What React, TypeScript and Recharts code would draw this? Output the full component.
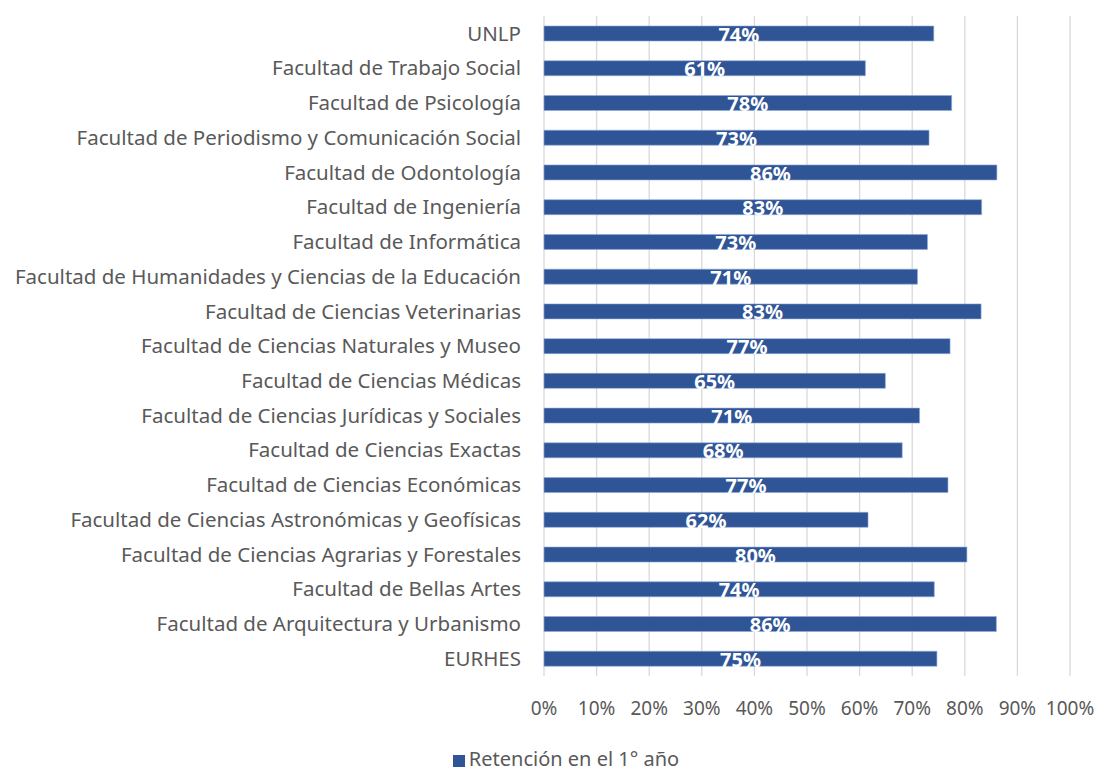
import {
  BarChart,
  Bar,
  XAxis,
  YAxis,
  CartesianGrid,
  Legend,
  LabelList,
} from "recharts";

const facultades = [
  "UNLP",
  "Facultad de Trabajo Social",
  "Facultad de Psicología",
  "Facultad de Periodismo y Comunicación Social",
  "Facultad de Odontología",
  "Facultad de Ingeniería",
  "Facultad de Informática",
  "Facultad de Humanidades y Ciencias de la Educación",
  "Facultad de Ciencias Veterinarias",
  "Facultad de Ciencias Naturales y Museo",
  "Facultad de Ciencias Médicas",
  "Facultad de Ciencias Jurídicas y Sociales",
  "Facultad de Ciencias Exactas",
  "Facultad de Ciencias Económicas",
  "Facultad de Ciencias Astronómicas y Geofísicas",
  "Facultad de Ciencias Agrarias y Forestales",
  "Facultad de Bellas Artes",
  "Facultad de Arquitectura y Urbanismo",
  "EURHES",
];

const retencion = [
  0.741, 0.611, 0.775, 0.732, 0.861, 0.832, 0.729, 0.71, 0.831, 0.772, 0.649,
  0.714, 0.681, 0.768, 0.616, 0.804, 0.742, 0.86, 0.747,
];

const xTicks = [0, 0.1, 0.2, 0.3, 0.4, 0.5, 0.6, 0.7, 0.8, 0.9, 1];

const SERIE = "Retención en el 1° año";

const data = facultades.map((name, i) => ({ name, value: retencion[i] }));

const FONT = "'Noto Sans', sans-serif";
const GRAY = "#595959";
const BLUE = "#2F5597";

const pct = (v: number) => `${Math.round(v * 100)}%`;

export default function App() {
  return (
    <div style={{ position: "absolute", left: 0, top: 0, fontFamily: FONT }}>
      <BarChart
        width={1099}
        height={771}
        data={data}
        layout="vertical"
        margin={{ top: 16, right: 29, left: 0, bottom: 0 }}
      >
        <CartesianGrid horizontal={false} stroke="#D9D9D9" strokeWidth={1.3} />
        <XAxis
          type="number"
          domain={[0, 1]}
          ticks={xTicks}
          tickFormatter={pct}
          axisLine={false}
          tickLine={false}
          tickSize={0}
          tickMargin={26}
          height={71}
          interval={0}
          tick={{ fill: GRAY, fontSize: 19, fontFamily: FONT }}
        />
        <YAxis
          type="category"
          dataKey="name"
          width={544}
          axisLine={false}
          tickLine={false}
          tickSize={0}
          tickMargin={23}
          interval={0}
          tick={{ fill: GRAY, fontSize: 20.5, fontFamily: FONT }}
        />
        <Legend
          verticalAlign="bottom"
          iconType="square"
          iconSize={12}
          wrapperStyle={{
            fontSize: 20,
            lineHeight: "24px",
            fontFamily: FONT,
            paddingLeft: 36,
            bottom: 0,
          }}
          formatter={(v) => <span style={{ color: GRAY }}>{v}</span>}
        />
        <Bar
          dataKey="value"
          name={SERIE}
          fill={BLUE}
          stroke="#8EA9DB"
          strokeWidth={0.6}
          barSize={15}
          isAnimationActive={false}
        >
          <LabelList
            dataKey="value"
            position="center"
            formatter={(v: number) => pct(v)}
            fill="#FFFFFF"
            fontSize={20}
            fontWeight="bold"
            fontFamily={FONT}
            dy={1}
          />
        </Bar>
      </BarChart>
    </div>
  );
}
